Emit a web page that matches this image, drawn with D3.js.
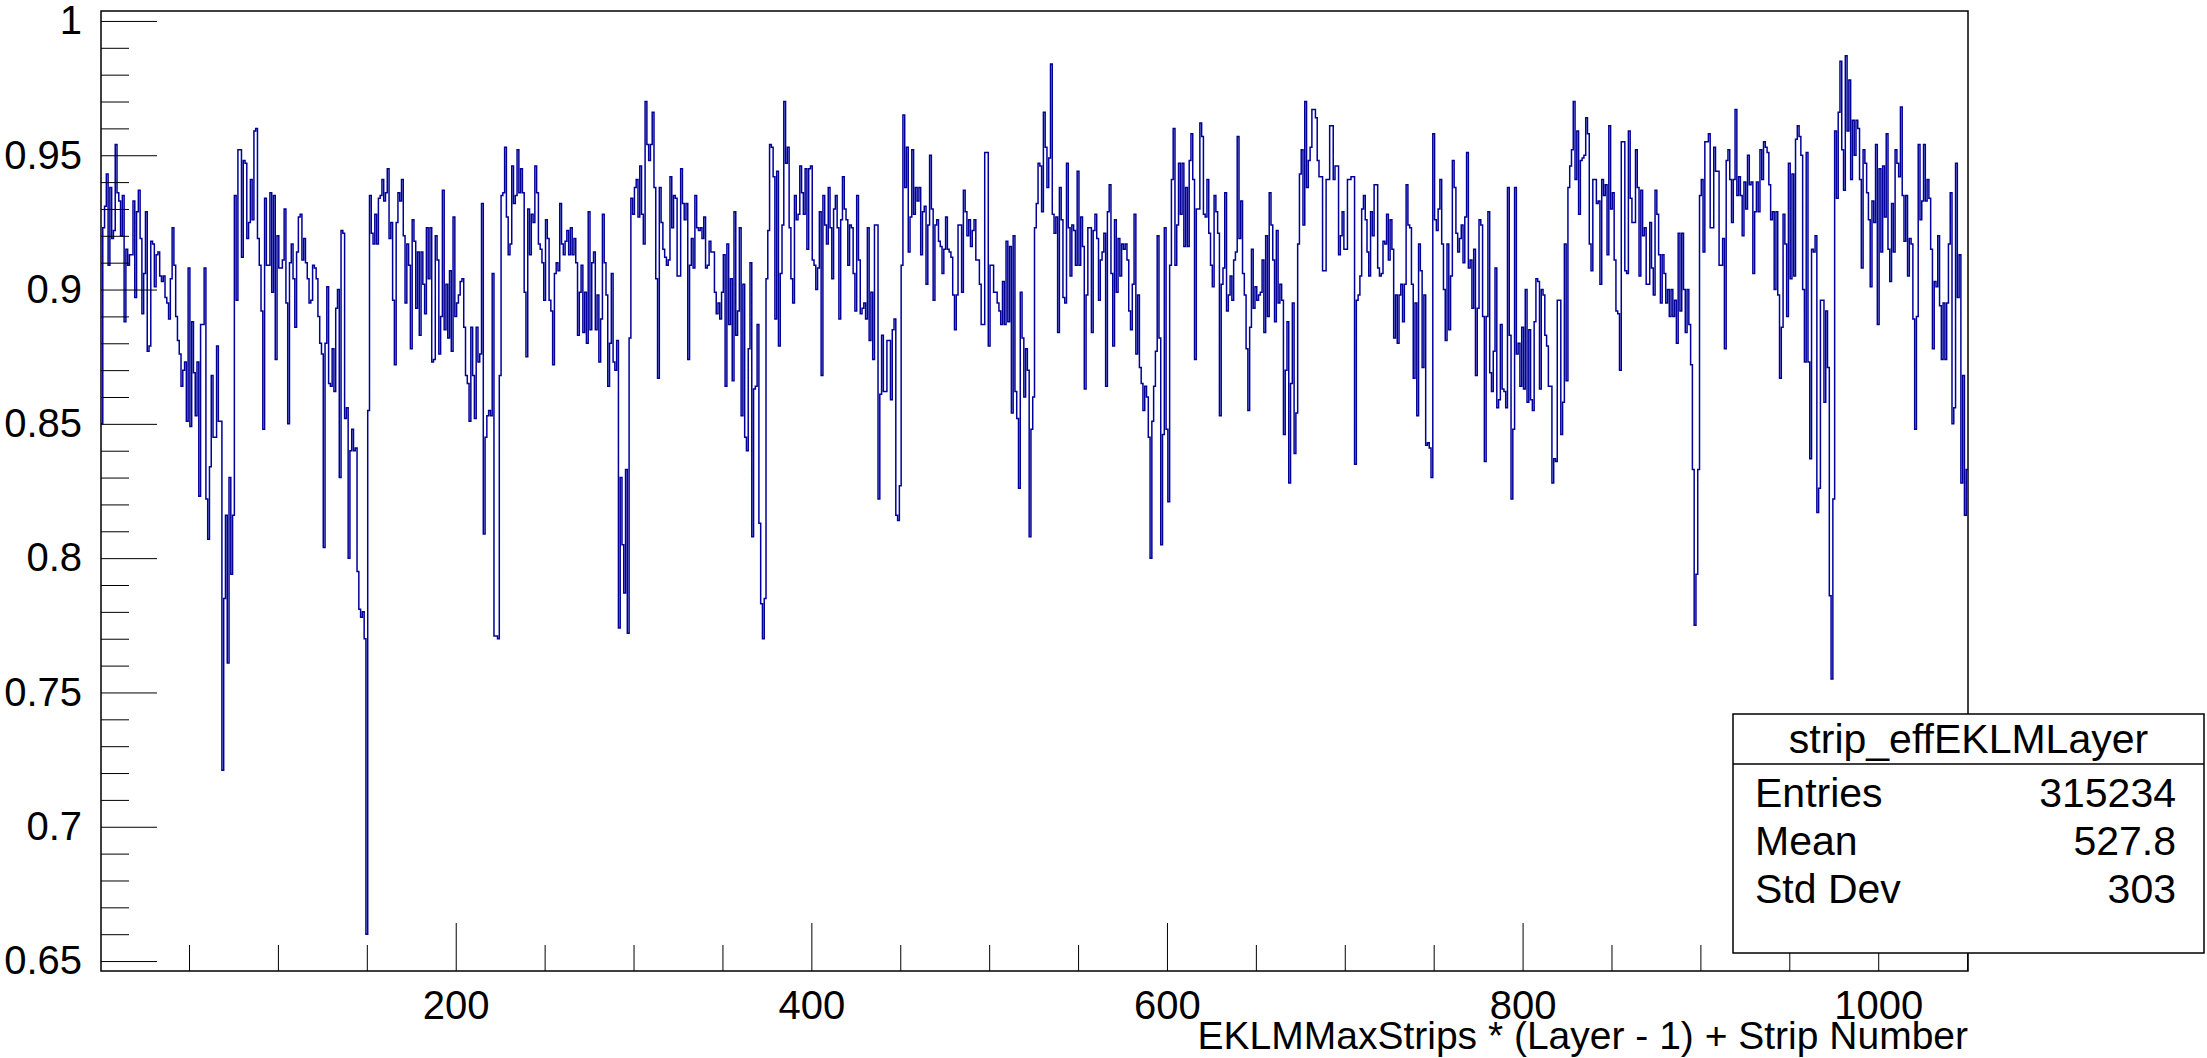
<!DOCTYPE html>
<html>
<head>
<meta charset="utf-8">
<script src="https://cdn.jsdelivr.net/npm/d3@7"></script>
<style>
  body { margin: 0; background: #fff; }
  svg { display: block; }
  text { font-family: "Liberation Sans", Arial, sans-serif; fill: #000; }
</style>
</head>
<body>
<svg id="chart" width="2207" height="1058"></svg>
<script>
// strip efficiency per bin (bins 1..1050)
const efficiency = [
  0.850,
  0.923,0.931,0.943,0.909,0.938,0.919,0.922,0.954,0.936,0.933,
  0.920,0.935,0.888,0.915,0.909,0.913,0.913,0.933,0.897,0.929,
  0.937,0.919,0.891,0.906,0.929,0.877,0.879,0.918,0.917,0.901,
  0.913,0.914,0.905,0.903,0.905,0.897,0.895,0.889,0.904,0.923,
  0.909,0.890,0.881,0.876,0.864,0.870,0.873,0.851,0.908,0.849,
  0.888,0.869,0.853,0.873,0.823,0.887,0.887,0.908,0.822,0.807,
  0.834,0.868,0.845,0.845,0.879,0.851,0.851,0.721,0.785,0.816,
  0.761,0.830,0.794,0.816,0.935,0.896,0.952,0.952,0.912,0.948,
  0.947,0.919,0.925,0.941,0.926,0.959,0.960,0.919,0.909,0.892,
  0.848,0.934,0.909,0.909,0.936,0.899,0.935,0.874,0.920,0.908,
  0.908,0.911,
  // 104..
  0.930,0.895,0.850,0.910,0.917,0.904,0.886,0.914,0.927,0.928,
  0.911,0.919,0.910,0.904,0.895,0.896,0.909,0.908,0.904,0.890,
  0.880,0.876,0.804,0.880,0.901,0.865,0.864,0.878,0.862,0.893,
  0.900,0.830,0.922,0.921,0.852,0.856,0.800,0.840,0.848,0.840,
  0.841,0.795,0.781,0.778,0.780,0.770,
  0.660,
  0.855,0.935,0.921,0.917,0.928,0.917,0.934,0.935,0.941,0.933,
  0.936,0.945,0.919,0.925,0.896,0.872,0.925,0.936,0.933,0.941,
  0.920,0.895,0.917,0.909,0.878,0.926,0.918,0.893,0.914,0.883,
  0.914,0.902,0.891,0.923,0.904,0.923,0.873,0.874,0.920,0.911,
  0.876,0.890,0.937,0.885,0.902,0.882,0.907,0.877,0.927,0.890,
  0.895,0.898,0.903,0.904,0.886,0.868,0.865,0.851,0.886,
  // 210..
  0.868,0.852,0.886,0.873,0.876,0.932,0.809,0.845,0.853,0.855,
  0.853,0.906,0.771,0.771,0.770,0.868,0.935,0.936,0.953,0.927,
  0.913,0.917,0.946,0.932,0.935,0.952,0.936,0.945,0.936,0.899,
  0.875,0.930,0.913,0.928,0.925,0.946,0.936,0.917,0.915,0.910,
  0.896,0.926,0.919,0.896,0.892,0.872,0.906,0.910,0.907,0.932,
  0.917,0.913,0.918,0.922,0.913,0.923,0.913,0.919,0.910,0.883,
  0.899,0.909,0.884,0.899,0.880,0.929,0.885,0.910,0.914,0.885,
  0.898,0.873,0.889,0.928,0.910,0.898,0.864,0.880,0.906,0.873,
  0.870,0.881,0.774,0.830,0.805,0.787,0.833,0.772,0.882,0.934,
  0.928,0.938,0.941,0.927,0.946,0.928,0.917,0.970,0.954,0.948,
  0.954,0.966,0.938,0.904,0.867,0.938,0.925,0.915,0.912,
  // 319..
  0.909,0.911,0.942,0.923,0.935,0.934,0.905,0.905,0.945,0.932,
  0.926,0.932,0.874,0.909,0.919,0.908,0.935,0.923,0.922,0.923,
  0.919,0.927,0.908,0.909,0.918,0.914,0.914,0.899,0.891,0.895,
  0.889,0.899,0.913,0.864,0.917,0.887,0.904,0.866,0.929,0.883,
  0.892,0.923,0.853,0.902,0.845,0.840,0.878,0.910,0.808,0.863,
  0.864,0.887,0.813,0.783,0.770,0.785,0.904,0.922,0.954,0.953,
  0.942,0.889,0.944,0.879,0.906,0.924,0.970,0.947,0.953,0.923,
  0.904,0.895,0.935,0.926,0.928,0.946,0.936,0.928,0.945,0.915,
  0.945,0.946,0.911,0.909,0.900,0.908,0.929,0.868,0.935,0.924,
  0.917,0.938,0.923,0.904,0.930,0.935,0.923,0.889,0.926,0.942,
  0.930,0.926,0.909,0.924,0.923,0.906,0.892,0.935,
  // 427..
  0.911,0.891,0.893,0.895,0.889,0.923,0.881,0.899,0.874,0.924,
  0.924,0.822,0.861,0.883,0.862,0.862,0.881,0.881,0.859,0.885,
  0.889,0.816,0.814,0.827,0.909,0.965,0.938,0.953,0.914,0.927,
  0.952,0.928,0.938,0.933,0.938,0.913,0.929,0.931,0.902,0.924,
  0.950,0.930,0.896,0.924,0.926,0.918,0.916,0.906,0.915,0.927,
  0.915,0.914,0.912,0.898,0.885,0.898,0.924,0.924,0.899,0.937,
  0.929,0.920,0.926,0.916,0.922,0.926,0.911,0.911,0.902,0.887,
  0.887,0.951,0.951,0.879,0.909,0.909,0.899,0.899,0.895,0.892,
  0.887,0.903,0.887,0.918,0.888,0.916,0.854,0.920,0.862,0.852,
  0.826,0.899,0.882,0.860,0.878,0.870,0.808,0.848,0.860,0.923,
  0.932,0.947,0.946,0.929,0.966,0.953,0.938,
  // 534..
  0.949,0.984,0.928,0.921,0.927,0.884,0.938,0.926,0.897,0.895,
  0.947,0.923,0.905,0.924,0.922,0.909,0.944,0.909,0.927,0.916,
  0.863,0.898,0.923,0.923,0.884,0.922,0.928,0.919,0.896,0.911,
  0.914,0.921,0.864,0.929,0.939,0.906,0.879,0.926,0.899,0.919,
  0.905,0.917,0.915,0.917,0.911,0.892,0.885,0.902,0.928,0.876,
  0.898,0.871,0.865,0.855,0.864,0.860,0.845,0.800,0.851,0.864,
  0.877,0.920,0.882,0.805,0.846,0.923,0.848,0.821,0.909,0.941,
  0.960,0.909,0.924,0.947,0.928,0.947,0.916,0.938,0.916,0.948,
  0.958,0.941,0.874,0.930,0.930,0.962,0.957,0.928,0.927,0.941,
  0.921,0.909,0.901,0.935,0.929,0.921,0.853,0.902,0.908,0.936,
  0.892,0.898,0.905,0.896,0.911,0.914,0.957,
  // 641..
  0.919,0.933,0.906,0.898,0.878,0.855,0.886,0.915,0.893,0.901,
  0.896,0.898,0.899,0.911,0.884,0.920,0.890,0.936,0.924,0.911,
  0.888,0.922,0.895,0.902,0.896,0.846,0.870,0.888,0.828,0.865,
  0.895,0.839,0.854,0.917,0.943,0.952,0.924,0.970,0.938,0.948,
  0.953,0.967,0.967,0.964,0.948,0.942,0.942,0.907,0.907,0.941,
  0.941,0.961,0.961,0.941,0.946,0.946,0.913,0.920,0.929,0.915,
  0.915,0.941,0.941,0.942,0.942,0.835,0.896,0.898,0.905,0.930,
  0.935,0.926,0.914,0.905,0.929,0.920,0.939,0.939,0.908,0.905,
  0.906,0.918,0.917,0.928,0.911,0.926,0.915,0.882,0.898,0.880,
  0.898,0.902,0.888,0.902,0.939,0.924,0.923,0.902,0.867,0.895,
  0.853,0.917,0.907,0.871,0.898,0.842,
  // 747..
  0.843,0.841,0.830,0.958,0.926,0.922,0.930,0.941,0.917,0.900,
  0.881,0.917,0.885,0.905,0.948,0.938,0.921,0.914,0.919,0.924,
  0.910,0.927,0.951,0.908,0.911,0.893,0.915,0.868,0.893,0.926,
  0.924,0.890,0.836,0.890,0.929,0.869,0.862,0.877,0.908,0.856,
  0.859,0.887,0.863,0.862,0.856,0.938,0.883,0.822,0.848,0.938,
  0.876,0.880,0.864,0.886,0.863,0.900,0.858,0.885,0.859,0.855,
  0.888,0.904,0.903,0.863,0.900,0.898,0.883,0.879,0.864,0.864,
  0.828,0.837,0.836,0.896,0.896,0.846,0.858,0.917,0.866,0.938,
  0.946,0.952,0.970,0.941,0.959,0.928,0.948,0.949,0.950,0.964,
  0.958,0.917,0.907,0.941,0.941,0.932,0.933,0.902,0.941,0.935,
  0.939,0.913,0.961,0.930,0.936,0.911,0.892,
  // 854..
  0.891,0.870,0.955,0.955,0.907,0.906,0.959,0.934,0.925,0.925,
  0.952,0.938,0.905,0.937,0.920,0.923,0.902,0.902,0.925,0.908,
  0.898,0.937,0.928,0.913,0.895,0.913,0.906,0.895,0.900,0.890,
  0.900,0.890,0.896,0.880,0.921,0.892,0.921,0.900,0.884,0.900,
  0.887,0.872,0.833,0.775,0.794,0.833,0.935,0.941,0.914,0.955,
  0.955,0.958,0.923,0.923,0.953,0.944,0.944,0.909,0.909,0.919,
  0.878,0.948,0.952,0.941,0.925,0.941,0.967,0.935,0.942,0.935,
  0.920,0.940,0.930,0.950,0.939,0.940,0.906,0.929,0.940,0.929,
  0.952,0.941,0.955,0.953,0.951,0.939,0.926,0.929,0.900,0.929,
  0.898,0.867,0.886,0.928,0.917,0.890,0.947,0.904,0.943,0.905,
  0.956,0.961,0.957,0.950,0.900,0.873,0.951,
  // 961..1050
  0.873,0.837,0.915,0.914,0.920,0.817,0.826,0.896,0.896,0.858,
  0.892,0.871,0.786,0.755,0.822,0.959,0.934,0.966,0.985,0.952,
  0.937,0.987,0.959,0.978,0.941,0.963,0.950,0.963,0.960,0.941,
  0.908,0.952,0.947,0.936,0.926,0.901,0.933,0.925,0.954,0.887,
  0.945,0.914,0.946,0.927,0.958,0.915,0.903,0.932,0.914,0.952,
  0.947,0.942,0.968,0.935,0.918,0.935,0.905,0.919,0.917,0.889,
  0.848,0.890,0.954,0.926,0.933,0.954,0.933,0.941,0.934,0.915,
  0.878,0.903,0.901,0.920,0.894,0.874,0.895,0.874,0.895,0.917,
  0.936,0.850,0.856,0.947,0.897,0.913,0.828,0.868,0.816,0.833
];

const yMajorTicks = [0.65, 0.7, 0.75, 0.8, 0.85, 0.9, 0.95, 1];
const xMajorTicks = [200, 400, 600, 800, 1000];
const histName = "strip_effEKLMLayer";
const statsLabels = ["Entries", "Mean", "Std Dev"];
const statsValues = ["315234", "527.8", "303"];
const xTitle = "EKLMMaxStrips * (Layer - 1) + Strip Number";

(() => {
  const frame = { left: 101, top: 11, right: 1968, bottom: 971 };
  const svg = d3.select("#chart");

  const x = d3.scaleLinear()
    .domain([0.5, 1050.5])
    .range([frame.left, frame.right]);

  const y = d3.scaleLinear()
    .domain([0.6463, 1.0037])
    .range([frame.bottom, frame.top]);

  // minor ticks: every 0.01 on y, every 50 on x
  const yMinor = d3.range(65, 101).map(d => d / 100)
    .filter(d => !yMajorTicks.some(t => Math.abs(t - d) < 1e-9));
  const xMinor = d3.range(50, 1051, 50).filter(d => !xMajorTicks.includes(d));

  // histogram outline
  const pts = efficiency.map((v, i) => [i + 0.5, v]);
  pts.push([efficiency.length + 0.5, efficiency[efficiency.length - 1]]);

  const line = d3.line()
    .x(d => x(d[0]))
    .y(d => y(d[1]))
    .curve(d3.curveStepAfter);

  svg.append("path")
    .datum(pts)
    .attr("fill", "none")
    .attr("stroke", "#000099")
    .attr("stroke-width", 1.5)
    .attr("d", line);

  // y axis, ticks pointing inward
  const yAxis = svg.append("g")
    .attr("transform", `translate(${frame.left},0)`)
    .call(d3.axisLeft(y).tickValues(yMajorTicks).tickSize(-56).tickSizeOuter(0)
      .tickPadding(19).tickFormat(d => String(+d.toFixed(2))));
  yAxis.select(".domain").remove();
  yAxis.selectAll("text").style("font-size", "40px");

  const yAxisMinor = svg.append("g")
    .attr("transform", `translate(${frame.left},0)`)
    .call(d3.axisLeft(y).tickValues(yMinor).tickSize(-28).tickFormat(""));
  yAxisMinor.select(".domain").remove();

  // x axis
  const xAxis = svg.append("g")
    .attr("transform", `translate(0,${frame.bottom})`)
    .call(d3.axisBottom(x).tickValues(xMajorTicks).tickSize(-48).tickSizeOuter(0)
      .tickPadding(20).tickFormat(d3.format("d")));
  xAxis.select(".domain").remove();
  xAxis.selectAll("text").style("font-size", "40px");

  const xAxisMinor = svg.append("g")
    .attr("transform", `translate(0,${frame.bottom})`)
    .call(d3.axisBottom(x).tickValues(xMinor).tickSize(-26).tickFormat(""));
  xAxisMinor.select(".domain").remove();

  svg.selectAll(".tick line").attr("stroke", "#000");

  // frame
  svg.append("rect")
    .attr("x", frame.left)
    .attr("y", frame.top)
    .attr("width", frame.right - frame.left)
    .attr("height", frame.bottom - frame.top)
    .attr("fill", "none")
    .attr("stroke", "#000")
    .attr("stroke-width", 1.5);

  // axis title
  svg.append("text")
    .attr("x", frame.right)
    .attr("y", 1049)
    .attr("text-anchor", "end")
    .style("font-size", "39px")
    .text(xTitle);

  // stats box
  const box = { x: 1733, y: 714, w: 471, h: 239, sep: 764 };
  const stats = svg.append("g");
  stats.append("rect")
    .attr("x", box.x)
    .attr("y", box.y)
    .attr("width", box.w)
    .attr("height", box.h)
    .attr("fill", "#fff")
    .attr("stroke", "#000")
    .attr("stroke-width", 1.5);
  stats.append("line")
    .attr("x1", box.x).attr("x2", box.x + box.w)
    .attr("y1", box.sep).attr("y2", box.sep)
    .attr("stroke", "#000")
    .attr("stroke-width", 1.5);
  stats.append("text")
    .attr("x", box.x + box.w / 2)
    .attr("y", 753)
    .attr("text-anchor", "middle")
    .style("font-size", "41px")
    .text(histName);

  const rowY = d3.scalePoint().domain(statsLabels).range([807, 903]);
  stats.selectAll(".stat-label")
    .data(statsLabels)
    .join("text")
    .attr("class", "stat-label")
    .attr("x", box.x + 22)
    .attr("y", d => rowY(d))
    .style("font-size", "41px")
    .text(d => d);
  stats.selectAll(".stat-value")
    .data(statsValues)
    .join("text")
    .attr("class", "stat-value")
    .attr("x", box.x + box.w - 28)
    .attr("y", (d, i) => rowY(statsLabels[i]))
    .attr("text-anchor", "end")
    .style("font-size", "41px")
    .text(d => d);
})();
</script>
</body>
</html>
